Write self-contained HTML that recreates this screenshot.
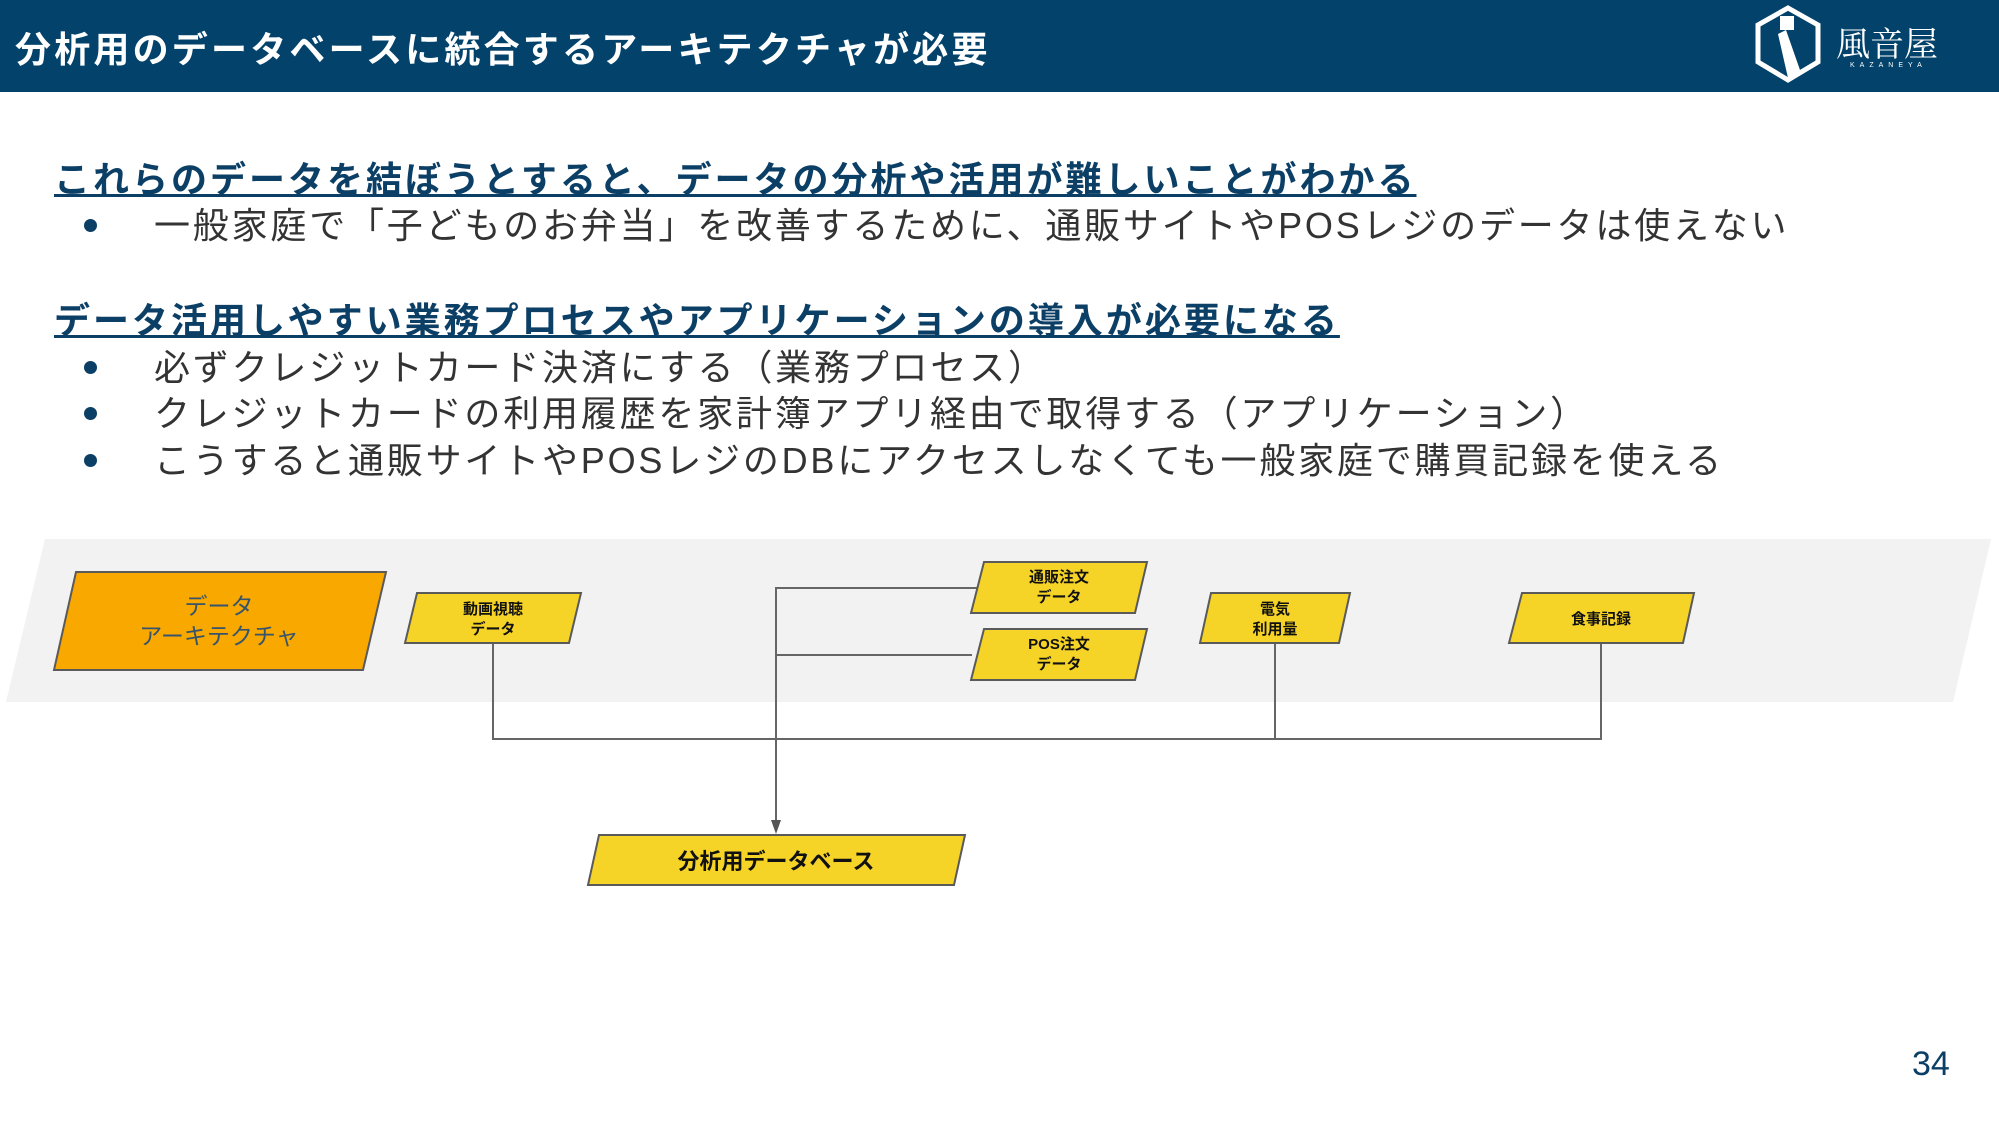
<!DOCTYPE html>
<html><head><meta charset="utf-8"><style>
body{margin:0;width:1999px;height:1127px;position:relative;background:#fff;overflow:hidden;font-family:"Liberation Sans","Noto Sans CJK JP",sans-serif;}
.hdr{position:absolute;left:0;top:0;width:1999px;height:92px;background:#03426a;}
.title{position:absolute;left:15px;top:21px;color:#fff;font-size:36px;font-weight:bold;white-space:nowrap;letter-spacing:3.2px;}
.h{position:absolute;left:54px;font-size:36px;font-weight:bold;color:#0c3f66;text-decoration:underline;text-decoration-thickness:3px;white-space:nowrap;letter-spacing:3px;}
.b{position:absolute;left:154px;font-size:36px;color:#333;white-space:nowrap;letter-spacing:2.8px;}
.dot{position:absolute;left:84px;width:13px;height:13px;border-radius:50%;background:#0c3f66;}
</style></head><body>
<div class="hdr"></div>
<div class="title">分析用のデータベースに統合するアーキテクチャが必要</div>
<svg style="position:absolute;left:1750px;top:0" width="249" height="92">
<polygon points="38,8 68,25 68,62 38,80 8,62 8,25" fill="none" stroke="#fff" stroke-width="5"/>
<path d="M30,16 h14 v14 h-14z M36,30 L50,70 L38,78 L28,34z" fill="#fff"/>
<text x="86" y="56" fill="#fff" font-size="34" font-family="Noto Serif CJK SC,serif">風音屋</text>
<text x="100" y="67" fill="#fff" font-size="7" letter-spacing="5">KAZANEYA</text>
</svg>
<div class="h" style="top:151px">これらのデータを結ぼうとすると、データの分析や活用が難しいことがわかる</div>
<div class="dot" style="top:219px"></div><div class="b" style="top:197px">一般家庭で「子どものお弁当」を改善するために、通販サイトやPOSレジのデータは使えない</div>
<div class="h" style="top:292px">データ活用しやすい業務プロセスやアプリケーションの導入が必要になる</div>
<div class="dot" style="top:361px"></div><div class="b" style="top:339px">必ずクレジットカード決済にする（業務プロセス）</div>
<div class="dot" style="top:407px"></div><div class="b" style="top:385px">クレジットカードの利用履歴を家計簿アプリ経由で取得する（アプリケーション）</div>
<div class="dot" style="top:454px"></div><div class="b" style="top:432px">こうすると通販サイトやPOSレジのDBにアクセスしなくても一般家庭で購買記録を使える</div>
<div style="position:absolute;left:1912px;top:1045px;font-size:34px;color:#0c3f66">34</div>
<svg style="position:absolute;left:0;top:0" width="1999" height="1127" font-family="Liberation Sans,Noto Sans CJK JP,sans-serif">
<polygon points="45,539 1991,539 1953,702 6,702" fill="#f2f2f2"/>
<g stroke="#666" stroke-width="2" fill="none">
<polyline points="493,643 493,739 1601,739 1601,643"/>
<line x1="1275" y1="643" x2="1275" y2="739"/>
<polyline points="978,588 776,588 776,825"/>
<line x1="776" y1="655" x2="972" y2="655"/>
</g>
<polygon points="771,820 781,820 776,834" fill="#555"/>
<g stroke="#5a5a5a" stroke-width="2">
<polygon points="76,572 386,572 363,670 54,670" fill="#f9a800"/>
<polygon points="417,593 581,593 569,643 405,643" fill="#f5d327"/>
<polygon points="984,562 1147,562 1135,613 971,613" fill="#f5d327"/>
<polygon points="984,629 1147,629 1135,680 971,680" fill="#f5d327"/>
<polygon points="1211,593 1350,593 1339,643 1200,643" fill="#f5d327"/>
<polygon points="1522,593 1694,593 1683,643 1509,643" fill="#f5d327"/>
<polygon points="599,835 965,835 954,885 588,885" fill="#f5d327"/>
</g>
<g text-anchor="middle">
<text x="219" y="614" font-size="23" fill="#36546b">データ</text>
<text x="219" y="644" font-size="23" fill="#36546b">アーキテクチャ</text>
<g font-size="15" font-weight="bold" fill="#111">
<text x="493" y="614">動画視聴</text><text x="493" y="634">データ</text>
<text x="1059" y="582">通販注文</text><text x="1059" y="602">データ</text>
<text x="1059" y="649">POS注文</text><text x="1059" y="669">データ</text>
<text x="1275" y="614">電気</text><text x="1275" y="634">利用量</text>
<text x="1601" y="624">食事記録</text>
</g>
<text x="776" y="869" font-size="22" font-weight="bold" fill="#111">分析用データベース</text>
</g>
</svg>
</body></html>
